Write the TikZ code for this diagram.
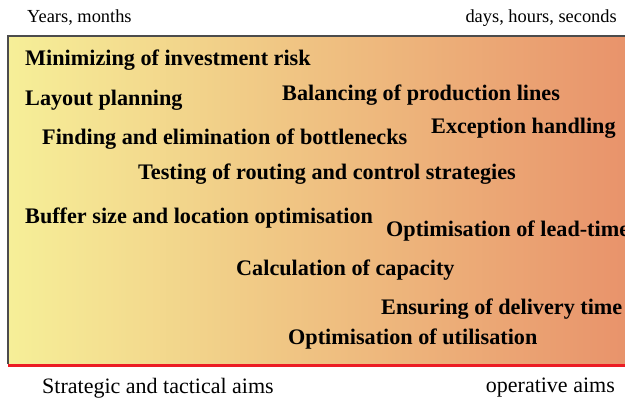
\documentclass[tikz,border=0pt]{standalone}
\usepackage{fontspec}
\setmainfont{Liberation Serif}
\usetikzlibrary{positioning}
\definecolor{aimyellow}{RGB}{246,239,152}
\definecolor{aimorange}{RGB}{240,190,122}
\definecolor{aimred}{RGB}{232,145,106}
\definecolor{aimline}{RGB}{236,28,36}

\begin{document}
\begin{tikzpicture}[
    x=1pt, y=-1pt,
    % Text styles
    aim/.style={anchor=west, inner sep=0pt, font=\fontsize{22.2}{25}\selectfont\bfseries},
    timelabel/.style={inner sep=0pt, font=\fontsize{18.4}{21}\selectfont},
    goallabel/.style={inner sep=0pt, font=\fontsize{22}{25}\selectfont},
]
    \useasboundingbox (0,0) rectangle (625,400);
    \clip (0,0) rectangle (625,400);

    % Background band
    \shade[left color=aimyellow, middle color=aimorange, right color=aimred]
        (8,36) rectangle (640,364);
    \draw[black!70, line width=1.2pt] (8,364) -- (8,36) -- (640,36);
    \draw[aimline, line width=3pt] (8,365) -- (640,365);

    % Time scale labels
    \node[timelabel, anchor=west] (years) at (27,18) {Years, months};
    \node[timelabel, anchor=east] (days) at (617,18) {days, hours, seconds};

    % Aims
    \node[aim] (risk) at (25,60) {Minimizing of investment risk};
    \node[aim] (layout) at (25,100) {Layout planning};
    \node[aim] (balance) at (282,95) {Balancing of production lines};
    \node[aim] (except) at (431,128) {Exception handling};
    \node[aim] (bottle) at (42,139) {Finding and elimination of bottlenecks};
    \node[aim] (routing) at (138,174) {Testing of routing and control strategies};
    \node[aim] (buffer) at (25,218) {Buffer size and location optimisation};
    \node[aim] (lead) at (386,231) {Optimisation of lead-time};
    \node[aim] (capacity) at (236,270) {Calculation of capacity};
    \node[aim] (delivery) at (381,309) {Ensuring of delivery time};
    \node[aim] (util) at (288,339) {Optimisation of utilisation};

    % Aim categories
    \node[goallabel, anchor=west] (strategic) at (42,388) {Strategic and tactical aims};
    \node[goallabel, anchor=east] (operative) at (615,388) {operative aims};
\end{tikzpicture}
\end{document}
